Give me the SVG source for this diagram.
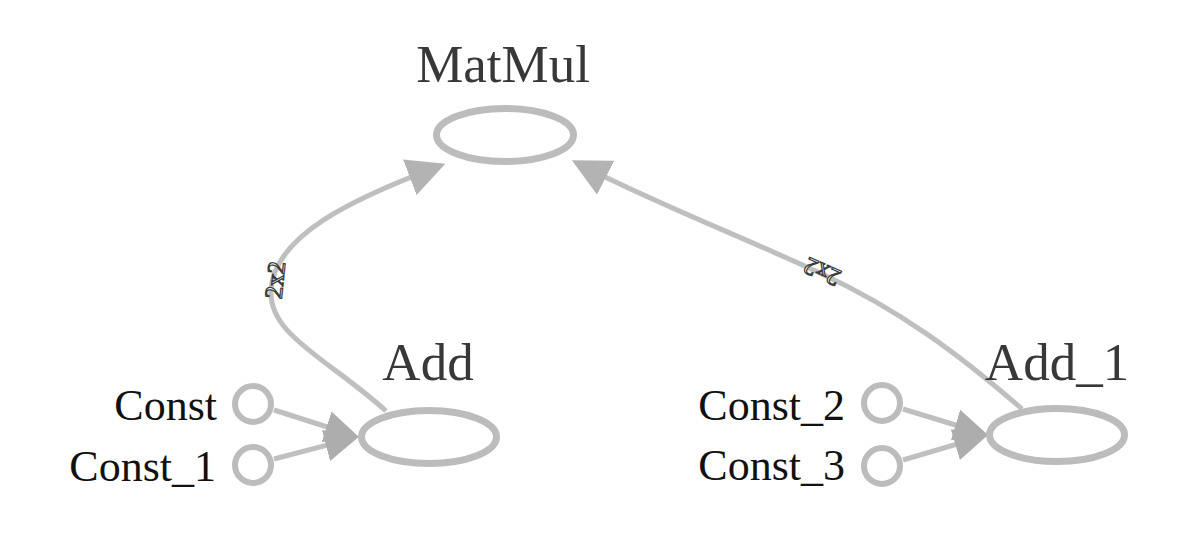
<svg xmlns="http://www.w3.org/2000/svg" width="1177" height="534" viewBox="0 0 1177 534">
<style>
.node{fill:none;stroke:#bcbcbc;stroke-width:7}
.const{fill:none;stroke:#bcbcbc;stroke-width:6}
.edge{fill:none;stroke:#bfbfbf;stroke-width:5}
.nlabel{font-family:"Liberation Serif","Times New Roman",serif;font-size:53px;fill:#383838;text-anchor:middle}
.clabel{font-family:"Liberation Serif","Times New Roman",serif;font-size:44px;fill:#111;text-anchor:end}
.elabel{font-family:"Liberation Serif","Times New Roman",serif;font-size:25px;fill:#fff;stroke:#3a3a3a;stroke-width:1.2;text-anchor:middle;dominant-baseline:central}
</style>
<defs>
<marker id="big" viewBox="0 0 10 10" refX="7" refY="5" markerUnits="userSpaceOnUse" markerWidth="38" markerHeight="38" preserveAspectRatio="none" orient="auto">
<path d="M0,0 L10,5 L0,10 z" fill="#b3b3b3"/>
</marker>
<marker id="small" viewBox="0 0 10 10" refX="7" refY="5" markerUnits="userSpaceOnUse" markerWidth="34" markerHeight="32" preserveAspectRatio="none" orient="auto">
<path d="M0,0 L10,5 L0,10 z" fill="#adadad"/>
</marker>
</defs>
<rect width="1177" height="534" fill="#fff"/>
<g id="connectors">
<path class="edge" d="M274,410 L349.3,434" marker-end="url(#small)"/>
<path class="edge" d="M274,459 L349.1,439.4" marker-end="url(#small)"/>
<path class="edge" d="M903,409 L978.3,432" marker-end="url(#small)"/>
<path class="edge" d="M903,460 L978.2,437.9" marker-end="url(#small)"/>
<path class="edge" d="M386,411 C330,360 268,335 271,290 C274,235 355,198 434.7,167.8" marker-end="url(#big)"/>
<path class="edge" d="M1022,409 C960,355 900,310 820,273 C740,236 655,203 582,165.5" marker-end="url(#big)"/>
<text class="elabel" transform="translate(275,280) rotate(-84)">2x2</text>
<text class="elabel" transform="translate(822,272) rotate(204)">2x2</text>
</g>
<g id="MatMul">
<ellipse class="node" cx="505" cy="135" rx="68.5" ry="26.5"/>
<text class="nlabel" x="503" y="82">MatMul</text>
</g>
<g id="Add">
<ellipse class="node" cx="429" cy="437" rx="67.5" ry="26.5"/>
<text class="nlabel" x="428" y="380">Add</text>
</g>
<g id="Add_1">
<ellipse class="node" cx="1057" cy="435" rx="67.5" ry="26.5"/>
<text class="nlabel" x="1057" y="380">Add_1</text>
</g>
<g id="Const">
<circle class="const" cx="253" cy="404" r="18"/>
<text class="clabel" x="217" y="420">Const</text>
</g>
<g id="Const_1">
<circle class="const" cx="253" cy="465" r="18"/>
<text class="clabel" x="216" y="481">Const_1</text>
</g>
<g id="Const_2">
<circle class="const" cx="882" cy="403" r="18"/>
<text class="clabel" x="845" y="420">Const_2</text>
</g>
<g id="Const_3">
<circle class="const" cx="882" cy="466" r="18"/>
<text class="clabel" x="845" y="480">Const_3</text>
</g>
</svg>
